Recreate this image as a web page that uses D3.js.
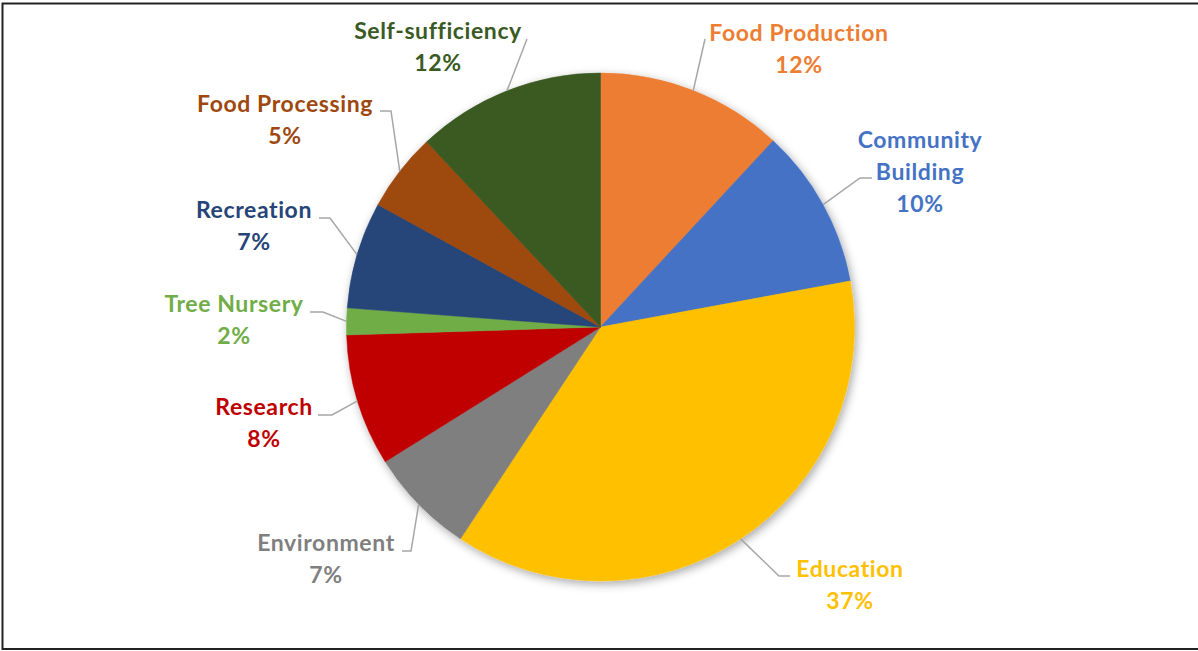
<!DOCTYPE html>
<html>
<head>
<meta charset="utf-8">
<script src="https://cdn.jsdelivr.net/npm/d3@7"></script>
<style>
  body { margin: 0; background: #fff; }
  svg { display: block; }
  .lbl { font-family: Lato, "Open Sans", sans-serif; font-weight: 700; font-size: 23px; letter-spacing: 0.6px; }
</style>
</head>
<body>
<svg width="1198" height="651"></svg>
<script>
// slices clockwise from 12 o'clock
const categories = ['Food Production', 'Community Building', 'Education', 'Environment', 'Research',
    'Tree Nursery', 'Recreation', 'Food Processing', 'Self-sufficiency'];
const values = [11.9, 10.2, 37.2, 6.8, 8.4, 1.7, 6.8, 5.0, 12.0];
const colors = ['#ED7D31', '#4472C4', '#FFC000', '#7F7F7F', '#C00000',
    '#70AD47', '#264478', '#9E480E', '#3A5A24'];

// label layout: text lines, center x, first baseline, leader line end points
const labelLines = [
    ['Food Production'], ['Community', 'Building'], ['Education'], ['Environment'], ['Research'],
    ['Tree Nursery'], ['Recreation'], ['Food Processing'], ['Self-sufficiency']
];
const labelX = [799, 920, 850, 326, 264, 234, 254, 285, 438];
const labelY = [41, 148, 577, 551, 415, 312, 218, 112, 39];
const leaderPts = [
    [[705, 39]],
    [[860, 178], [872, 178]],
    [[779, 576], [790, 576]],
    [[411, 551], [402, 551]],
    [[332, 415], [318, 415]],
    [[323, 312], [310, 312]],
    [[330, 218], [319, 218]],
    [[391, 111], [380, 111]],
    [[527, 39]]
];

const svg = d3.select('svg');
let width = +svg.attr('width');
let height = +svg.attr('height');

// chart border
svg.append('rect')
    .attr('x', 2.5).attr('y', 3.5)
    .attr('width', 1200).attr('height', 645.5)
    .attr('fill', 'none')
    .attr('stroke', '#222')
    .attr('stroke-width', 2);

const defs = svg.append('defs');
const shadow = defs.append('filter').attr('id', 'shadow')
    .attr('x', '-10%').attr('y', '-10%').attr('width', '120%').attr('height', '120%');
shadow.append('feDropShadow')
    .attr('dx', 2).attr('dy', 3)
    .attr('stdDeviation', 5)
    .attr('flood-color', '#000')
    .attr('flood-opacity', 0.35);

const cx = 600.5, cy = 327, radius = 254;
const data = categories.map((c, i) => ({ name: c, value: values[i], i: i }));

const pie = d3.pie().sort(null).value(d => d.value);
const arc = d3.arc().innerRadius(0).outerRadius(radius);
const arcs = pie(data);

const g = svg.append('g').attr('transform', `translate(${cx},${cy})`);

g.append('g')
    .attr('filter', 'url(#shadow)')
    .selectAll('path')
    .data(arcs)
    .enter()
    .append('path')
    .attr('d', arc)
    .attr('fill', d => colors[d.data.i])
    .attr('stroke', d => colors[d.data.i])
    .attr('stroke-width', 0.5);

// leader lines
const line = d3.line();
svg.append('g').attr('class', 'leaders')
    .selectAll('path')
    .data(arcs)
    .enter()
    .append('path')
    .attr('d', d => {
        let a = (d.startAngle + d.endAngle) / 2;
        let p0 = [cx + radius * Math.sin(a), cy - radius * Math.cos(a)];
        return line([p0].concat(leaderPts[d.data.i]));
    })
    .attr('fill', 'none')
    .attr('stroke', '#A6A6A6')
    .attr('stroke-width', 1.5);

// labels
svg.append('g').attr('class', 'labels')
    .selectAll('text')
    .data(arcs)
    .enter()
    .append('text')
    .attr('class', 'lbl')
    .attr('text-anchor', 'middle')
    .attr('fill', d => colors[d.data.i])
    .each(function(d) {
        let t = d3.select(this);
        let i = d.data.i;
        let lines = labelLines[i].concat([Math.round(d.data.value) + '%']);
        lines.forEach((s, k) => {
            t.append('tspan')
                .attr('x', labelX[i])
                .attr('y', labelY[i] + k * 32)
                .text(s);
        });
    });
</script>
</body>
</html>
